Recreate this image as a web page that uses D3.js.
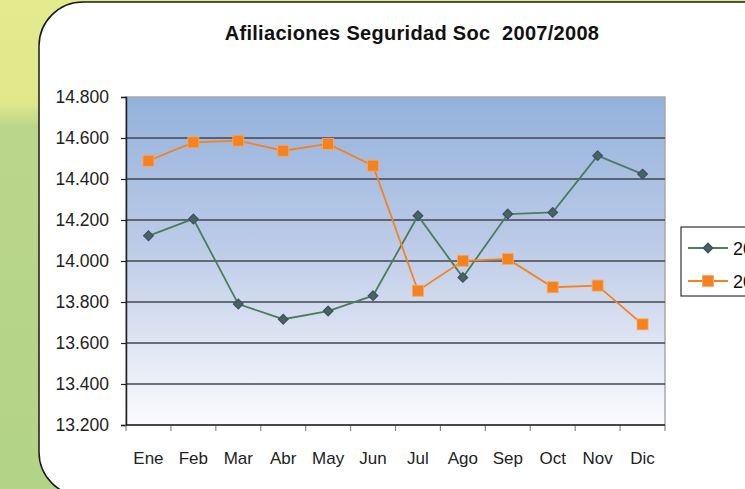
<!DOCTYPE html>
<html>
<head>
<meta charset="utf-8">
<script src="https://cdn.jsdelivr.net/npm/d3@7"></script>
<style>
  body { margin: 0; padding: 0; overflow: hidden; }
  svg { display: block; font-family: "Liberation Sans", Arial, sans-serif; }
</style>
</head>
<body>
<svg id="chart" width="745" height="489"></svg>
<script>
// data
const months = ['Ene','Feb','Mar','Abr','May','Jun','Jul','Ago','Sep','Oct','Nov','Dic']
const serie2007 = [14.123, 14.205, 13.790, 13.716, 13.756, 13.831, 14.221, 13.920, 14.229, 14.237, 14.514, 14.424]
const serie2008 = [14.489, 14.579, 14.587, 14.538, 14.571, 14.465, 13.855, 14.001, 14.010, 13.872, 13.880, 13.691]
const yTicks = [13.2, 13.4, 13.6, 13.8, 14.0, 14.2, 14.4, 14.6, 14.8]
const seriesNames = ['2007', '2008']

const svg = d3.select('#chart')
const W = 745, H = 489
const plot = {left: 126, right: 665, top: 97, bottom: 425}

const defs = svg.append('defs')
const bgGrad = defs.append('linearGradient').attr('id','bg').attr('x1',0).attr('y1',0).attr('x2',0).attr('y2',1)
bgGrad.append('stop').attr('offset','0%').attr('stop-color','#e4ea8e')
bgGrad.append('stop').attr('offset','21%').attr('stop-color','#e0e88b')
bgGrad.append('stop').attr('offset','26%').attr('stop-color','#bad68a')
bgGrad.append('stop').attr('offset','100%').attr('stop-color','#b3d387')

const plotGrad = defs.append('linearGradient').attr('id','plotbg').attr('x1',0).attr('y1',0).attr('x2',0).attr('y2',1)
plotGrad.append('stop').attr('offset','0%').attr('stop-color','#93b2dc')
plotGrad.append('stop').attr('offset','45%').attr('stop-color','#bccbe7')
plotGrad.append('stop').attr('offset','100%').attr('stop-color','#fbfbfe')

// page background and the white card
svg.append('rect').attr('width', W).attr('height', H).attr('fill', 'url(#bg)')
svg.append('rect')
  .attr('x', 39).attr('y', 2)
  .attr('width', 800).attr('height', 494)
  .attr('rx', 44).attr('ry', 44)
  .attr('fill', '#fff')
  .attr('stroke', '#1a1a1a')
  .attr('stroke-width', 1.5)

svg.append('text')
  .attr('x', 412).attr('y', 40)
  .attr('text-anchor', 'middle')
  .attr('font-size', 20)
  .attr('font-weight', 'bold')
  .attr('letter-spacing', 0.3)
  .attr('fill', '#111')
  .attr('xml:space', 'preserve')
  .text('Afiliaciones Seguridad Soc  2007/2008')

const x = d3.scaleBand().domain(months).range([plot.left, plot.right])
const y = d3.scaleLinear().domain([13.2, 14.8]).range([plot.bottom, plot.top])

// plot area
svg.append('rect')
  .attr('x', plot.left).attr('y', plot.top)
  .attr('width', plot.right - plot.left).attr('height', plot.bottom - plot.top)
  .attr('fill', 'url(#plotbg)')
  .attr('stroke', '#a8a8a8')
  .attr('stroke-width', 1.5)

svg.append('g').selectAll('line')
  .data(yTicks.filter(d => d > 13.2 && d < 14.8))
  .join('line')
  .attr('x1', plot.left).attr('x2', plot.right)
  .attr('y1', d => y(d)).attr('y2', d => y(d))
  .attr('stroke', '#45454f')
  .attr('stroke-width', 1.4)

const yAxis = svg.append('g')
  .attr('transform', `translate(${plot.left},0)`)
  .call(d3.axisLeft(y).tickValues(yTicks).tickSize(5).tickPadding(12).tickFormat(d => d3.format('.3f')(d)))
yAxis.select('.domain').attr('stroke', '#222').attr('stroke-width', 1.5)
yAxis.selectAll('.tick line').attr('stroke', '#222').attr('stroke-width', 1.2)
yAxis.selectAll('text').attr('font-size', 17.5).attr('fill', '#222').attr('font-family', '"Liberation Sans", Arial, sans-serif')

// x axis: ticks between the categories
const xAxis = svg.append('g')
svg.append('line')
  .attr('x1', plot.left).attr('x2', plot.right)
  .attr('y1', plot.bottom).attr('y2', plot.bottom)
  .attr('stroke', '#222').attr('stroke-width', 1.5)
xAxis.selectAll('line')
  .data(months.concat(['end']))
  .join('line')
  .attr('x1', (d, i) => i < months.length ? x(d) : x(months[months.length - 1]) + x.bandwidth())
  .attr('x2', (d, i) => i < months.length ? x(d) : x(months[months.length - 1]) + x.bandwidth())
  .attr('y1', plot.bottom).attr('y2', plot.bottom + 6)
  .attr('stroke', '#888').attr('stroke-width', 1.2)
xAxis.selectAll('text')
  .data(months)
  .join('text')
  .attr('x', d => x(d) + x.bandwidth() / 2)
  .attr('y', 464)
  .attr('text-anchor', 'middle')
  .attr('font-size', 17)
  .attr('fill', '#222')
  .text(d => d)

const line = d3.line().x((d, i) => x(months[i]) + x.bandwidth() / 2).y(d => y(d))

// 2007 series
svg.append('path').datum(serie2007)
  .attr('d', line).attr('fill', 'none')
  .attr('stroke', '#4b7d5c').attr('stroke-width', 1.8)
svg.append('g').selectAll('path')
  .data(serie2007)
  .join('path')
  .attr('d', d3.symbol(d3.symbolDiamond2, 58))
  .attr('transform', (d, i) => `translate(${x(months[i]) + x.bandwidth() / 2},${y(d)})`)
  .attr('fill', '#3f6b50')
  .attr('stroke', '#4a4878')
  .attr('stroke-width', 1.3)

// 2008 series
svg.append('path').datum(serie2008)
  .attr('d', line).attr('fill', 'none')
  .attr('stroke', '#f5821f').attr('stroke-width', 1.8)
svg.append('g').selectAll('rect')
  .data(serie2008)
  .join('rect')
  .attr('x', (d, i) => x(months[i]) + x.bandwidth() / 2 - 5.5)
  .attr('y', d => y(d) - 5.5)
  .attr('width', 11).attr('height', 11)
  .attr('fill', '#f5821f')
  .attr('stroke', '#f8a866')
  .attr('stroke-width', 0.8)

// legend (the window cuts it off at the right, as in the original)
const legend = svg.append('g').attr('transform', 'translate(681,227)')
legend.append('rect')
  .attr('width', 120).attr('height', 69)
  .attr('fill', '#fff')
  .attr('stroke', '#333').attr('stroke-width', 1.2)
const items = legend.selectAll('g.item')
  .data(seriesNames)
  .join('g')
  .attr('class', 'item')
  .attr('transform', (d, i) => `translate(0,${21 + i * 33})`)
items.append('line')
  .attr('x1', 7).attr('x2', 47)
  .attr('stroke', (d, i) => i === 0 ? '#4b7d5c' : '#f5821f')
  .attr('stroke-width', 1.8)
items.filter((d, i) => i === 0).append('path')
  .attr('d', d3.symbol(d3.symbolDiamond2, 58))
  .attr('transform', 'translate(27,0)')
  .attr('fill', '#3f6b50').attr('stroke', '#4a4878').attr('stroke-width', 1.3)
items.filter((d, i) => i === 1).append('rect')
  .attr('x', 21.5).attr('y', -5.5).attr('width', 11).attr('height', 11)
  .attr('fill', '#f5821f').attr('stroke', '#f8a866').attr('stroke-width', 0.8)
items.append('text')
  .attr('x', 52).attr('y', 7)
  .attr('font-size', 18)
  .attr('fill', '#111')
  .text(d => d)
</script>
</body>
</html>
